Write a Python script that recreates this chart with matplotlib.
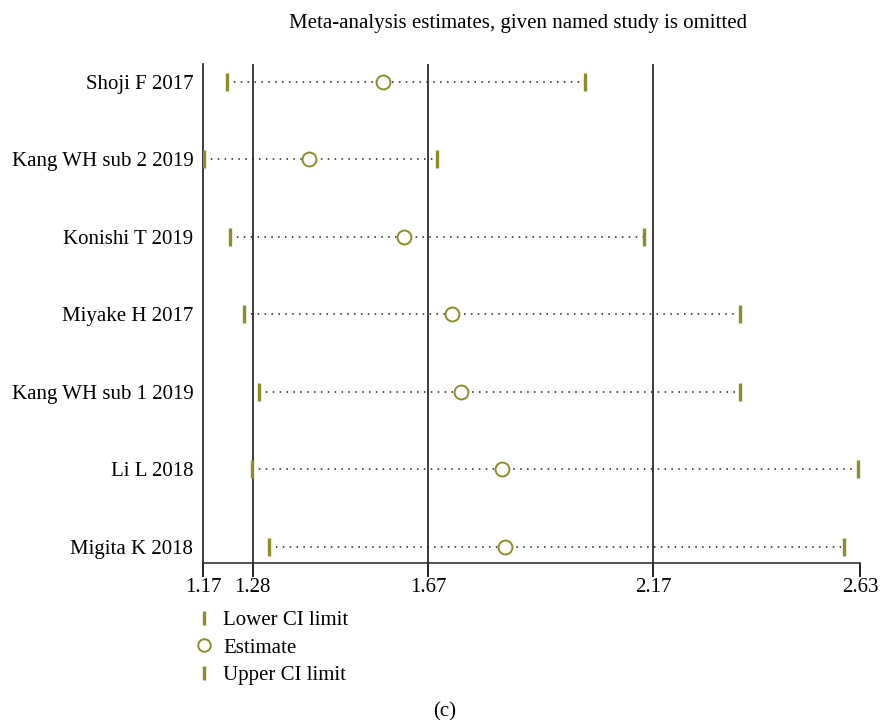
import numpy as np
import matplotlib
matplotlib.use("Agg")
import matplotlib.pyplot as plt
from matplotlib.lines import Line2D

# omitted study / estimates
studies = ["Shoji F 2017", "Kang WH sub 2 2019", "Konishi T 2019", "Miyake H 2017",
           "Kang WH sub 1 2019", "Li L 2018", "Migita K 2018"]
lower = [1.223, 1.172, 1.230, 1.261, 1.295, 1.279, 1.317]
estimate = [1.571, 1.406, 1.617, 1.724, 1.744, 1.835, 1.842]
upper = [2.018, 1.689, 2.149, 2.363, 2.363, 2.626, 2.594]
ticks = [1.17, 1.28, 1.67, 2.17, 2.63]
ref_lines = [1.28, 1.67, 2.17]

olive = "#8c8c2c"
plt.rcParams['font.family'] = ['Liberation Serif', 'DejaVu Serif']
fs = 15

fig = plt.figure(figsize=(8.83, 7.2), dpi=100)
ax = fig.add_axes([0.2299, 0.2181, 0.7441, 0.6930])

y = np.arange(1, len(studies) + 1)

for xv in ref_lines:
    ax.axvline(xv, color="#1a1a1a", lw=1.2, zorder=1)

for i in range(len(studies)):
    ax.plot([lower[i], upper[i]], [y[i], y[i]], color="#222222", ls=(0, (1, 3.5)), lw=1.1, zorder=2)

ax.plot(lower, y, ls="none", marker="|", ms=13, mew=2.4, color=olive, zorder=3)
ax.plot(upper, y, ls="none", marker="|", ms=13, mew=2.4, color=olive, zorder=3)
ax.plot(estimate, y, ls="none", marker="o", ms=10, mfc="white", mec=olive, mew=1.4, zorder=4)

ax.set_xlim(1.17, 2.63)
ax.set_ylim(7.21, 0.77)
ax.set_xticks(ticks)
ax.set_xticklabels([f"{t:.2f}" for t in ticks], fontsize=fs)
ax.set_yticks(y)
ax.set_yticklabels(studies, fontsize=fs)
ax.tick_params(axis="y", length=0, pad=7)
ax.tick_params(axis="x", length=10, width=1.2, direction="out", pad=1)
ax.spines["top"].set_visible(False)
ax.spines["right"].set_visible(False)
ax.spines["left"].set_color("#1a1a1a")
ax.spines["bottom"].set_color("#333333")
ax.spines["left"].set_linewidth(1.2)
ax.spines["bottom"].set_linewidth(1.2)

fig.text(0.587, 0.967, "Meta-analysis estimates, given named study is omitted",
         ha="center", va="center", fontsize=fs)

handles = [
    Line2D([], [], ls="none", marker="|", ms=10, mew=2.4, color=olive),
    Line2D([], [], ls="none", marker="o", ms=9, mfc="white", mec=olive, mew=1.4),
    Line2D([], [], ls="none", marker="|", ms=10, mew=2.4, color=olive),
]
fig.legend(handles, ["Lower CI limit", "Estimate", "Upper CI limit"],
           loc="upper left", bbox_to_anchor=(0.222, 0.152), frameon=False,
           fontsize=fs, handlelength=0.8, handletextpad=0.5, labelspacing=0.38,
           borderpad=0, borderaxespad=0)

fig.text(0.504, 0.012, "(c)", ha="center", va="center", fontsize=fs)

fig.savefig("out.png", dpi=100)
